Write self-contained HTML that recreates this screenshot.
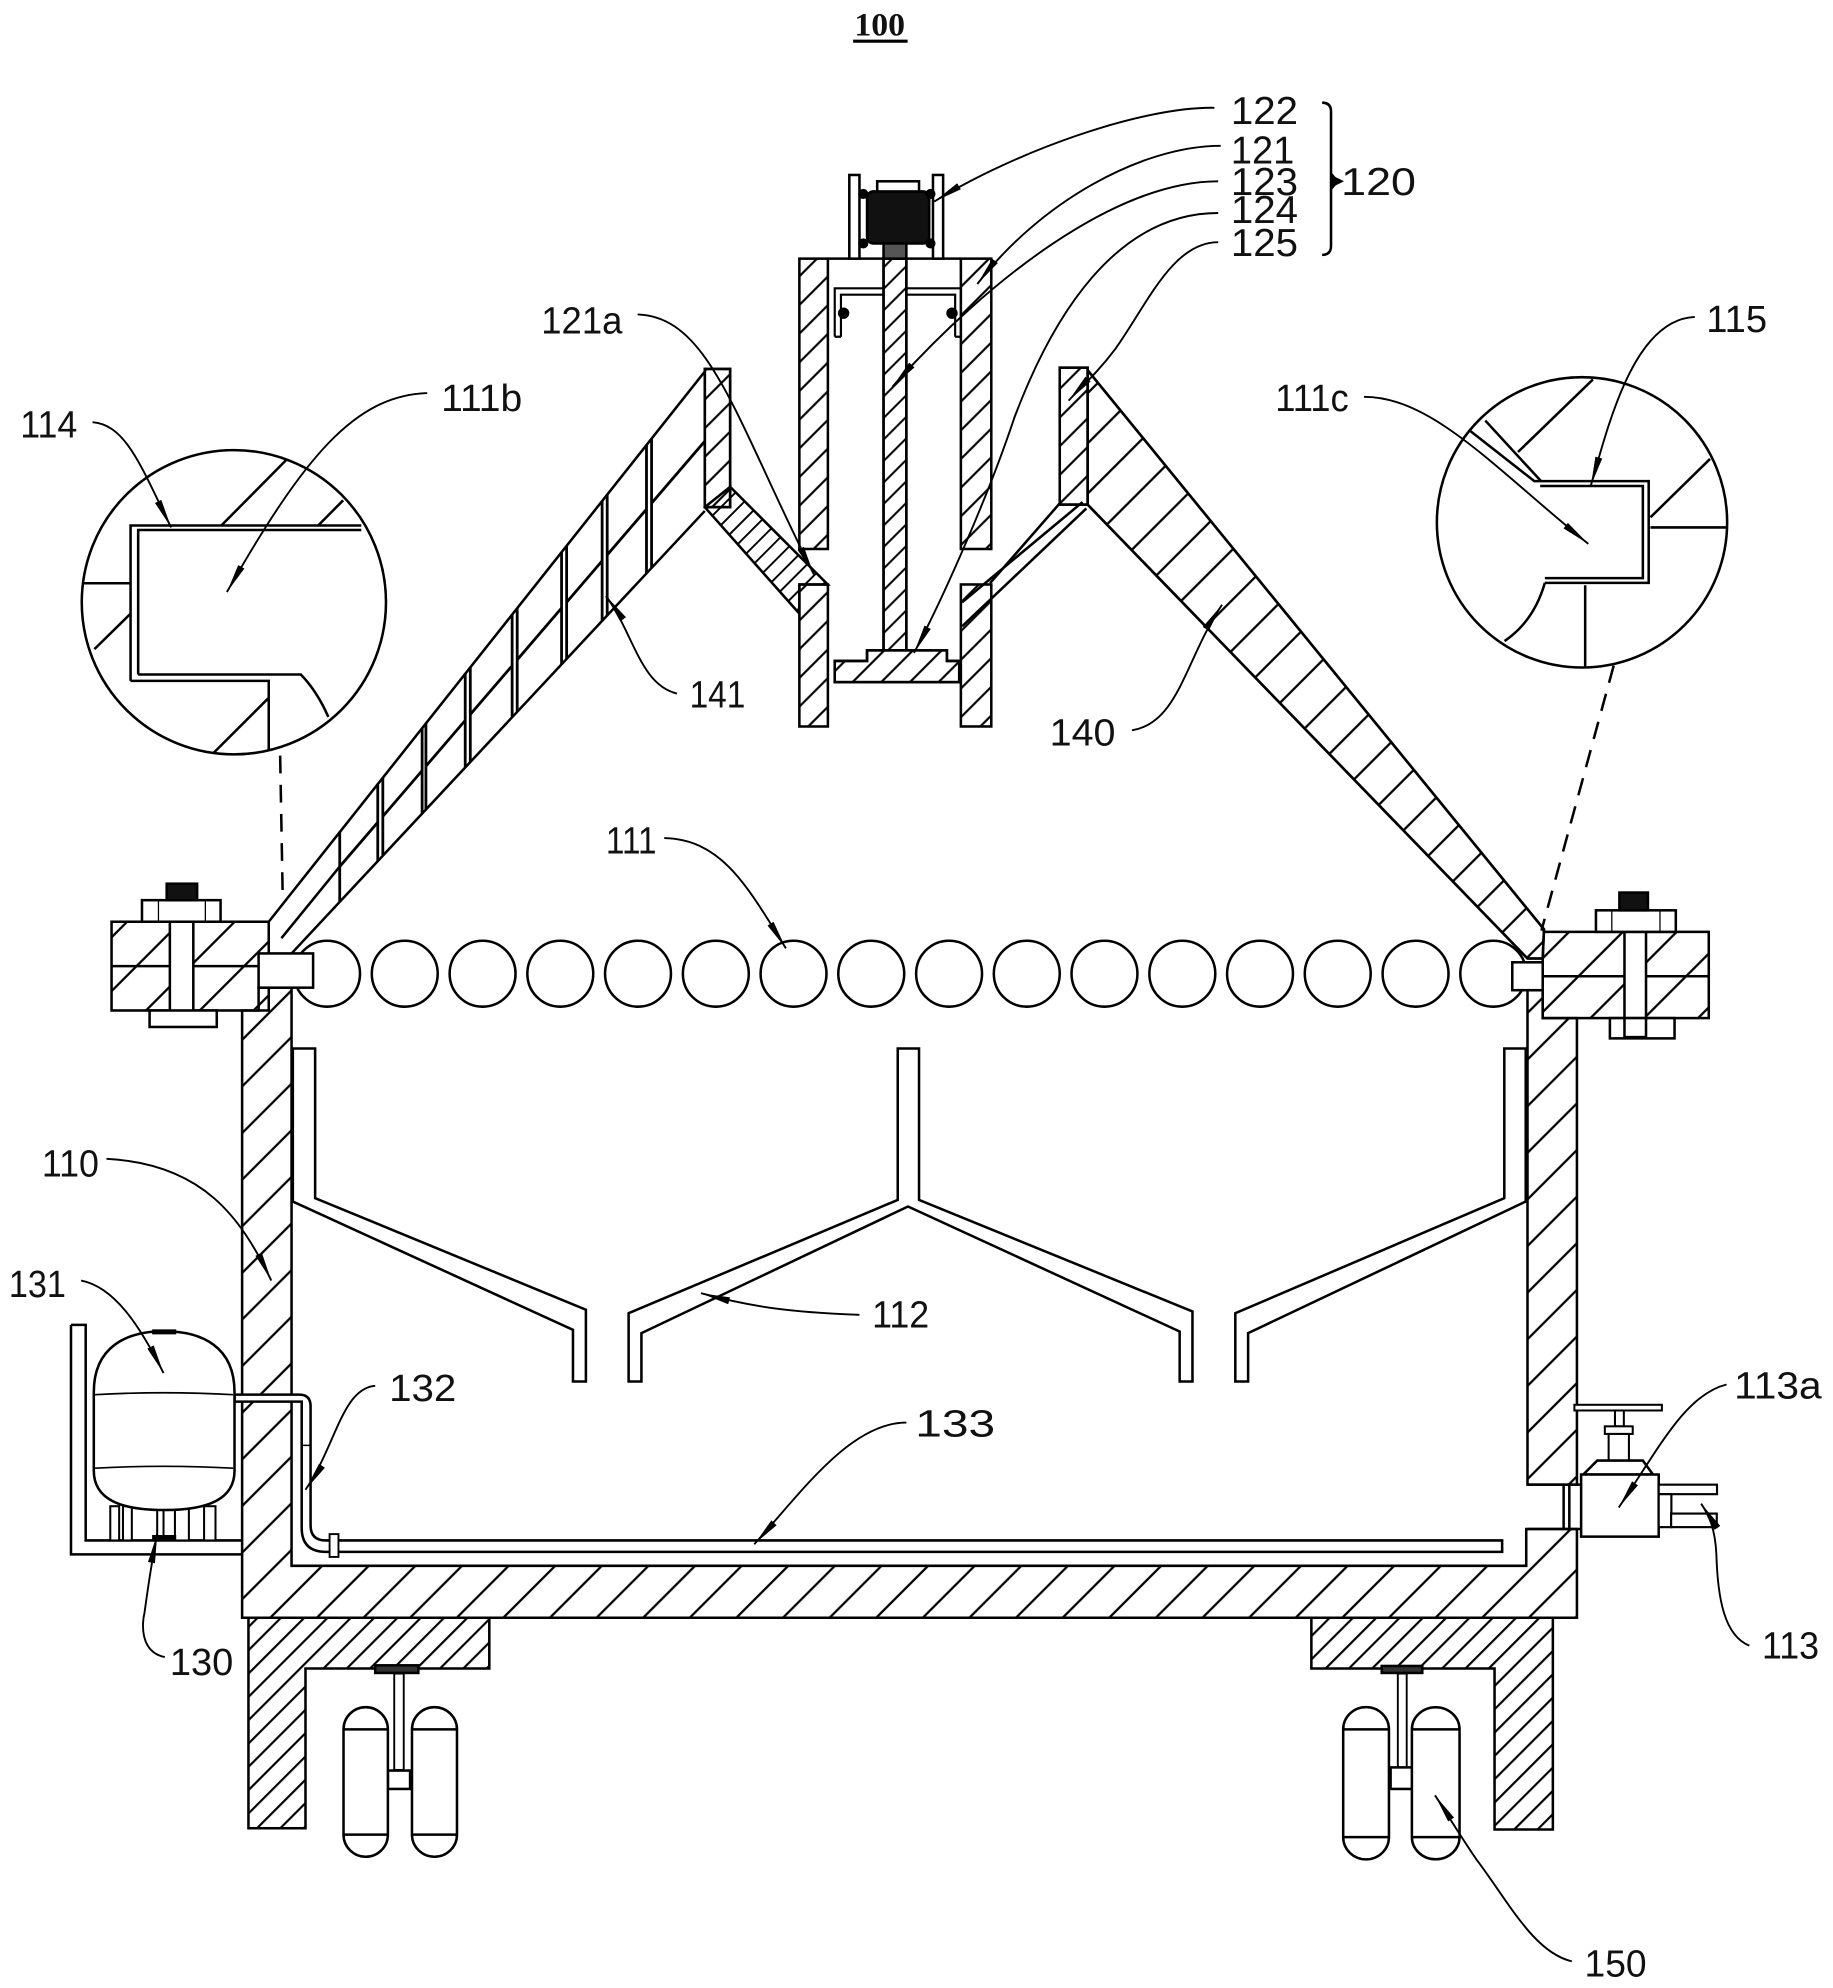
<!DOCTYPE html>
<html><head><meta charset="utf-8"><style>
html,body{margin:0;padding:0;background:#fff;}
svg{display:block;}
text{font-family:"Liberation Sans",sans-serif;fill:#111;}
</style></head><body>
<svg xmlns="http://www.w3.org/2000/svg" width="1833" height="1988" viewBox="0 0 1446 1568" preserveAspectRatio="none">
<defs>
<pattern id="h10" patternUnits="userSpaceOnUse" width="10" height="10" patternTransform="rotate(45)"><line x1="5" y1="-1" x2="5" y2="11" stroke="#000" stroke-width="1.5"/></pattern>
<pattern id="h12" patternUnits="userSpaceOnUse" width="12" height="12" patternTransform="rotate(45)"><line x1="6" y1="-1" x2="6" y2="13" stroke="#000" stroke-width="1.6"/></pattern>
<pattern id="h13" patternUnits="userSpaceOnUse" width="13" height="13" patternTransform="rotate(45)"><line x1="6" y1="-1" x2="6" y2="14" stroke="#000" stroke-width="1.7"/></pattern>
<pattern id="h16" patternUnits="userSpaceOnUse" width="16" height="16" patternTransform="rotate(45)"><line x1="8" y1="-1" x2="8" y2="17" stroke="#000" stroke-width="1.7"/></pattern>
<pattern id="h26" patternUnits="userSpaceOnUse" width="26" height="26" patternTransform="rotate(45)"><line x1="13" y1="-1" x2="13" y2="27" stroke="#000" stroke-width="1.8"/></pattern>
<pattern id="h28" patternUnits="userSpaceOnUse" width="28" height="28" patternTransform="rotate(45)"><line x1="14" y1="-1" x2="14" y2="29" stroke="#000" stroke-width="1.8"/></pattern>
<pattern id="h30" patternUnits="userSpaceOnUse" width="30" height="30" patternTransform="rotate(45)"><line x1="15" y1="-1" x2="15" y2="31" stroke="#000" stroke-width="1.8"/></pattern>
<marker id="ar" markerUnits="userSpaceOnUse" markerWidth="26" markerHeight="10" refX="23" refY="5" orient="auto"><path d="M0,2.2 L23,5 L0,7.8 Z" fill="#000"/></marker>
</defs>
<rect width="1446" height="1568" fill="#fff"/>

<!-- Title -->
<text x="674" y="28" style="font-family:'Liberation Serif',serif;font-weight:bold" font-size="26" textLength="40" lengthAdjust="spacingAndGlyphs">100</text>
<line x1="673" y1="32.5" x2="716" y2="32.5" stroke="#000" stroke-width="2.5"/>

<g stroke="#000" stroke-width="2" fill="none">

<!-- ===== Hatched main body ===== -->
<polygon points="191,797 191,1276 1244,1276 1244,1206 1204,1206 1204,1235 230,1235 230,779 204,779 204,797" fill="url(#h26)"/>
<polygon points="1205,781 1217,781 1217,803 1244,803 1244,1171 1205,1171" fill="url(#h26)"/>
<!-- valve pipe stub through wall -->
<line x1="1205" y1="1171" x2="1247" y2="1171"/>
<line x1="1205" y1="1206" x2="1247" y2="1206"/>
<line x1="1233.5" y1="1171" x2="1233.5" y2="1206"/>
<line x1="1238" y1="1171" x2="1238" y2="1206"/>

<!-- legs -->
<polygon points="196,1276 386,1276 386,1316 241,1316 241,1442 196,1442" fill="url(#h13)"/>
<polygon points="1034.5,1276 1225,1276 1225,1443 1179,1443 1179,1316 1034.5,1316" fill="url(#h13)"/>

<!-- flanges -->
<rect x="88" y="727" width="124" height="70" fill="url(#h30)"/>
<line x1="88" y1="762" x2="212" y2="762"/>
<rect x="1217" y="735" width="131" height="68" fill="url(#h30)"/>
<line x1="1217" y1="770" x2="1348" y2="770"/>

<!-- right roof band (140) -->
<polygon points="858,292 1218,733 1217,756 1205,756 858,398" fill="#fff"/>
<polygon points="858,292 1218,733 1217,756 1205,756 858,398" fill="url(#h28)"/>

<!-- left roof band with windows (141) -->
<line x1="212" y1="727" x2="556" y2="293"/>
<line x1="230" y1="752" x2="556" y2="403"/>
<line x1="222" y1="740" x2="268" y2="683.5"/>
<g stroke-width="2.2">
<line x1="268" y1="655.9" x2="268" y2="711.2"/><line x1="298" y1="618.1" x2="298" y2="679.1"/><line x1="268" y1="683.5" x2="298" y2="648.6"/>
<line x1="302" y1="613" x2="302" y2="674.8"/><line x1="333" y1="574" x2="333" y2="641.6"/><line x1="302" y1="643.9" x2="333" y2="607.8"/>
<line x1="336" y1="570.2" x2="336" y2="638.4"/><line x1="367" y1="531.1" x2="367" y2="605.2"/><line x1="336" y1="604.3" x2="367" y2="568.2"/>
<line x1="371" y1="526.1" x2="371" y2="600.9"/><line x1="404" y1="484.5" x2="404" y2="565.6"/><line x1="371" y1="563.5" x2="404" y2="525.1"/>
<line x1="408" y1="479.5" x2="408" y2="561.4"/><line x1="443" y1="435.4" x2="443" y2="523.9"/><line x1="408" y1="520.4" x2="443" y2="479.6"/>
<line x1="447" y1="430.3" x2="447" y2="519.6"/><line x1="475" y1="395.1" x2="475" y2="489.7"/><line x1="447" y1="475" x2="475" y2="442.4"/>
<line x1="479" y1="390" x2="479" y2="485.4"/><line x1="510" y1="351" x2="510" y2="452.2"/><line x1="479" y1="437.7" x2="510" y2="401.6"/>
<line x1="514" y1="345.9" x2="514" y2="447.9"/><line x1="514" y1="396.9" x2="556" y2="348"/>
</g>

<!-- posts -->
<rect x="556" y="291" width="20" height="109" fill="#fff"/>
<rect x="556" y="291" width="20" height="109" fill="url(#h16)"/>
<rect x="836" y="290" width="22" height="108" fill="#fff"/>
<rect x="836" y="290" width="22" height="108" fill="url(#h16)"/>
<!-- left slant piece -->
<polygon points="556,400 576,384 653,461 630.6,461 630.6,484" fill="url(#h10)"/>

<!-- upper tube -->
<rect x="630.6" y="204" width="22.5" height="229" fill="url(#h16)"/>
<rect x="758" y="204" width="24" height="229" fill="url(#h16)"/>
<line x1="653" y1="204" x2="758" y2="204"/>
<!-- cup 123 -->
<path d="M658.5,265.6 L658.5,227.4 L758,227.4 M663.4,265.6 L663.4,232.4 L753.5,232.4 L753.5,265.6 M658.5,265.6 L663.4,265.6 M753.5,265.6 L758,265.6" stroke-width="1.7"/>
<circle cx="665.5" cy="247" r="3.5" fill="#000"/>
<circle cx="751" cy="247" r="3.5" fill="#000"/>
<!-- shaft -->
<rect x="697" y="204" width="18" height="309" fill="#fff"/>
<rect x="697" y="204" width="18" height="309" fill="url(#h12)"/>
<!-- base plate -->
<polygon points="658.5,521.3 684,521.3 684,513 747,513 747,521.3 756.7,521.3 756.7,538 658.5,538" fill="#fff"/>
<polygon points="658.5,521.3 684,521.3 684,513 747,513 747,521.3 756.7,521.3 756.7,538 658.5,538" fill="url(#h16)"/>
<!-- lower tube -->
<rect x="630.6" y="461" width="22.5" height="112" fill="url(#h16)"/>
<rect x="758" y="461" width="24" height="112" fill="url(#h16)"/>
<!-- right connecting lines -->
<line x1="836" y1="397" x2="781" y2="460"/>
<line x1="854" y1="396" x2="759" y2="475"/>
<line x1="857" y1="401" x2="759" y2="494"/>

<!-- motor 122 -->
<rect x="670" y="138" width="8" height="66" fill="#fff"/>
<rect x="736" y="138" width="8" height="66" fill="#fff"/>
<rect x="684" y="151" width="49" height="41" rx="5" fill="#111"/>
<rect x="692" y="143" width="33" height="8" fill="#fff"/>
<rect x="697" y="192" width="18" height="12" fill="#555"/>
<circle cx="681" cy="153" r="3" fill="#000"/><circle cx="681" cy="192" r="3" fill="#000"/>
<circle cx="734" cy="153" r="3" fill="#000"/><circle cx="734" cy="192" r="3" fill="#000"/>

<!-- rollers 111 -->
<circle cx="258" cy="768" r="26"/><circle cx="319.3" cy="768" r="26"/><circle cx="380.7" cy="768" r="26"/><circle cx="442" cy="768" r="26"/>
<circle cx="503.3" cy="768" r="26"/><circle cx="564.7" cy="768" r="26"/><circle cx="626" cy="768" r="26"/><circle cx="687.3" cy="768" r="26"/>
<circle cx="748.7" cy="768" r="26"/><circle cx="810" cy="768" r="26"/><circle cx="871.3" cy="768" r="26"/><circle cx="932.7" cy="768" r="26"/>
<circle cx="994" cy="768" r="26"/><circle cx="1055.3" cy="768" r="26"/><circle cx="1116.7" cy="768" r="26"/><circle cx="1178" cy="768" r="26"/>
<rect x="204" y="752" width="43" height="27" fill="#fff"/>
<rect x="1193" y="759" width="24" height="22" fill="#fff"/>

<!-- bolts -->
<rect x="134" y="727" width="18.5" height="81" fill="#fff"/>
<rect x="112" y="710" width="62" height="17" fill="#fff"/>
<line x1="125" y1="710" x2="125" y2="727" stroke-width="1"/><line x1="162" y1="710" x2="162" y2="727" stroke-width="1"/>
<rect x="131.5" y="697" width="24" height="13" fill="#111"/>
<rect x="118" y="797" width="53" height="13" fill="#fff"/>
<rect x="1281.5" y="735" width="17" height="83" fill="#fff"/>
<rect x="1259" y="718" width="63" height="17" fill="#fff"/>
<line x1="1271.5" y1="718" x2="1271.5" y2="735" stroke-width="1"/><line x1="1309.5" y1="718" x2="1309.5" y2="735" stroke-width="1"/>
<rect x="1277.5" y="704" width="22.5" height="14" fill="#111"/>
<rect x="1270" y="803" width="51" height="16" fill="#fff"/>
<rect x="1281.5" y="803" width="17" height="15" fill="#fff"/>

<!-- baffles 112 -->
<path d="M231,827 L231,947.7 L452,1048.9 L452,1089.6 L462.2,1089.6 L462.2,1033 L248.6,945 L248.6,827 Z" fill="#fff"/>
<path d="M708.2,827 L708.2,946.4 L495.9,1035.8 L495.9,1089.6 L506,1089.6 L506,1051.5 L716.3,951.6 L930.6,1050.2 L930.6,1089.6 L940.7,1089.6 L940.7,1034.4 L725,946.4 L725,827 Z" fill="#fff"/>
<path d="M1203.6,827 L1203.6,947.7 L984.6,1051.5 L984.6,1089.6 L974.5,1089.6 L974.5,1035.8 L1186.7,945 L1186.7,827 Z" fill="#fff"/>

<!-- pipes 132 / 133 -->
<path d="M185,1100 L236,1100 Q245,1100 245,1109 L245,1203 Q245,1215 257,1215 L1185,1215 L1185,1224 L257,1224 Q238,1224 238,1205 L238,1105.5 L185,1105.5 Z" fill="#fff"/>
<line x1="238" y1="1140" x2="245" y2="1140" stroke-width="1.2"/>
<rect x="260" y="1210" width="7" height="18" fill="#fff" stroke-width="1.5"/>

<!-- tank 131 with bracket 130 -->
<path d="M56,1045 L67.6,1045 L67.6,1215 L191,1215 M56,1045 L56,1226 L191,1226"/>
<rect x="87" y="1188" width="7" height="27" fill="#fff" stroke-width="1.6"/>
<rect x="97" y="1188" width="7" height="27" fill="#fff" stroke-width="1.6"/>
<rect x="124" y="1188" width="5" height="27" fill="#fff" stroke-width="1.6"/>
<rect x="138" y="1188" width="11" height="27" fill="#fff" stroke-width="1.6"/>
<rect x="161" y="1188" width="9" height="27" fill="#fff" stroke-width="1.6"/>
<path d="M74,1098 C74,1062 100,1050 129.5,1050 C159,1050 185,1062 185,1098 L185,1160 C185,1182 165,1191 129.5,1191 C94,1191 74,1182 74,1160 Z" fill="#fff"/>
<path d="M75,1100 Q129,1097 184,1100 M75,1158 Q129,1155 184,1158" stroke-width="1.3"/>
<line x1="120" y1="1050.5" x2="139" y2="1050.5" stroke-width="4"/>
<line x1="120" y1="1212.5" x2="139" y2="1212.5" stroke-width="3.5"/>

<!-- valve 113 -->
<rect x="1242" y="1108" width="69" height="4.5" fill="#fff" stroke-width="1.6"/>
<rect x="1274" y="1112.5" width="7" height="12.5" fill="#fff" stroke-width="1.6"/>
<rect x="1266" y="1125" width="22" height="6" fill="#fff" stroke-width="1.6"/>
<rect x="1269" y="1131" width="16" height="21" fill="#fff" stroke-width="1.6"/>
<path d="M1249,1163 L1260,1152 L1296,1152 L1304,1163 Z" fill="#fff"/>
<rect x="1247.3" y="1163" width="61.2" height="49" fill="#fff"/>
<rect x="1308.5" y="1171" width="46" height="7.5" fill="#fff" stroke-width="1.7"/>
<rect x="1308.5" y="1178.5" width="10" height="26" fill="#fff" stroke-width="1.7"/>
<rect x="1318.3" y="1193.8" width="36" height="10.7" fill="#fff" stroke-width="1.7"/>

<!-- casters 150 -->
<rect x="296" y="1313.5" width="34" height="6" fill="#333"/>
<rect x="311" y="1320" width="7.5" height="76" fill="#fff" stroke-width="1.5"/>
<rect x="306" y="1396.5" width="17.5" height="14.5" fill="#fff"/>
<path d="M271,1364 A17.5,17.5 0 0 1 306,1364 L306,1447 A17.5,17.5 0 0 1 271,1447 Z M271,1364 L306,1364 M271,1447 L306,1447" fill="#fff"/>
<path d="M325,1364 A17.75,17.5 0 0 1 360.5,1364 L360.5,1447 A17.75,17.5 0 0 1 325,1447 Z M325,1364 L360.5,1364 M325,1447 L360.5,1447" fill="#fff"/>
<rect x="1090" y="1314" width="32" height="5.5" fill="#333"/>
<rect x="1102.7" y="1320" width="7" height="74" fill="#fff" stroke-width="1.5"/>
<rect x="1097" y="1394" width="17" height="17" fill="#fff"/>
<path d="M1059.6,1364 A18,17.5 0 0 1 1095.7,1364 L1095.7,1449 A18,17.5 0 0 1 1059.6,1449 Z M1059.6,1364 L1095.7,1364 M1059.6,1449 L1095.7,1449" fill="#fff"/>
<path d="M1113.8,1364 A18.8,17.5 0 0 1 1151.4,1364 L1151.4,1449 A18.8,17.5 0 0 1 1113.8,1449 Z M1113.8,1364 L1151.4,1364 M1113.8,1449 L1151.4,1449" fill="#fff"/>

<!-- detail circle left (111b / 114) -->
<circle cx="184.5" cy="475" r="120"/>
<path d="M103,537 L103,414.5 L285,414.5 M109,532 L109,418 L285,418"/>
<path d="M103,537 L212,537 L212,592 M109,532 L237.3,532 Q250,545 259,565.4"/>
<line x1="174.6" y1="414.5" x2="225.6" y2="363"/>
<line x1="251" y1="414.5" x2="270.7" y2="394.6"/>
<line x1="66" y1="460" x2="103" y2="460"/>
<line x1="74.5" y1="512" x2="103" y2="484"/>
<line x1="168.7" y1="593.6" x2="212" y2="550.4"/>
<line x1="221" y1="596" x2="223" y2="706" stroke-dasharray="14,9"/>

<!-- detail circle right (111c / 115) -->
<circle cx="1248" cy="412" r="114.5"/>
<path d="M1211,379.5 L1300.6,379.5 L1300.6,459.7 L1218.7,459.7 M1215,383.3 L1296,383.3 L1296,456 L1218.7,456"/>
<line x1="1171.7" y1="331.7" x2="1215.7" y2="379.5"/>
<line x1="1160" y1="340" x2="1211" y2="380"/>
<line x1="1197.5" y1="356.5" x2="1256.6" y2="299.3"/>
<line x1="1302" y1="408" x2="1349" y2="362"/>
<line x1="1302" y1="416" x2="1362.5" y2="416"/>
<path d="M1218.7,459.7 Q1210,490 1186.9,505.6"/>
<line x1="1250.5" y1="461.6" x2="1250.5" y2="526"/>
<line x1="1273" y1="525" x2="1216" y2="734" stroke-dasharray="14,9"/>

<!-- brace for 120 -->
<path d="M1043,81 Q1050,81 1050,88 L1050,137 L1055,143 L1050,149 L1050,194 Q1050,201 1043,201"/>
<path d="M1050,139 L1058,143 L1050,147 Z" fill="#000"/>
</g>

<!-- leaders -->
<g stroke="#000" stroke-width="1.5" fill="none" marker-end="url(#ar)">
<path d="M958,85 C900,84 800,120 737,159"/>
<path d="M963,115 C900,115 820,160 771,224"/>
<path d="M961,143 C880,143 780,220 704,305"/>
<path d="M961,168 C880,168 830,250 800,330 C780,390 745,470 721,515"/>
<path d="M961,191 C925,191 905,240 880,275 C865,295 852,306 843,316"/>
<path d="M73,333 C100,335 112,370 135,416"/>
<path d="M337,310 C280,312 240,360 179,467"/>
<path d="M503,248 C560,250 580,330 642,453"/>
<path d="M1337,250 C1290,252 1270,330 1255,383"/>
<path d="M1076,313 C1130,313 1180,370 1253,429"/>
<path d="M534,547 C505,540 500,500 478,470"/>
<path d="M893,576 C930,570 935,520 964,477"/>
<path d="M524,661 C570,662 590,700 620,748"/>
<path d="M84,914 C160,918 190,960 214,1010"/>
<path d="M64,1010 C90,1015 110,1045 129,1083"/>
<path d="M678,1037 C620,1035 590,1030 553,1020"/>
<path d="M296,1093 C270,1095 265,1140 241,1175"/>
<path d="M715,1122 C670,1122 630,1180 595,1218"/>
<path d="M1362,1092 C1330,1100 1310,1140 1277,1189"/>
<path d="M1380,1298 C1360,1290 1355,1260 1354,1226 C1353,1205 1348,1195 1342,1186"/>
<path d="M130,1307 C110,1303 112,1280 114,1272 C117,1250 120,1230 124,1210"/>
<path d="M1240,1547 C1210,1540 1190,1500 1165,1467 C1150,1445 1140,1428 1132,1416"/>
</g>

<!-- labels -->
<g font-size="31">
<text x="971" y="98" textLength="53" lengthAdjust="spacingAndGlyphs">122</text>
<text x="971" y="129" textLength="50" lengthAdjust="spacingAndGlyphs">121</text>
<text x="971" y="154" textLength="53" lengthAdjust="spacingAndGlyphs">123</text>
<text x="971" y="176" textLength="53" lengthAdjust="spacingAndGlyphs">124</text>
<text x="971" y="202" textLength="53" lengthAdjust="spacingAndGlyphs">125</text>
<text x="1058" y="154" textLength="59" lengthAdjust="spacingAndGlyphs">120</text>
</g>
<g font-size="30">
<text x="16" y="345" textLength="45" lengthAdjust="spacingAndGlyphs">114</text>
<text x="348" y="324" textLength="64" lengthAdjust="spacingAndGlyphs">111b</text>
<text x="427" y="263" textLength="64" lengthAdjust="spacingAndGlyphs">121a</text>
<text x="1346" y="262" textLength="48" lengthAdjust="spacingAndGlyphs">115</text>
<text x="1006" y="324" textLength="58" lengthAdjust="spacingAndGlyphs">111c</text>
<text x="544" y="558" textLength="44" lengthAdjust="spacingAndGlyphs">141</text>
<text x="828" y="588" textLength="52" lengthAdjust="spacingAndGlyphs">140</text>
<text x="478" y="673" textLength="40" lengthAdjust="spacingAndGlyphs">111</text>
<text x="33" y="928" textLength="45" lengthAdjust="spacingAndGlyphs">110</text>
<text x="7" y="1023" textLength="45" lengthAdjust="spacingAndGlyphs">131</text>
<text x="688" y="1047" textLength="45" lengthAdjust="spacingAndGlyphs">112</text>
<text x="307" y="1105" textLength="53" lengthAdjust="spacingAndGlyphs">132</text>
<text x="722" y="1133" textLength="63" lengthAdjust="spacingAndGlyphs">133</text>
<text x="1368" y="1103" textLength="69" lengthAdjust="spacingAndGlyphs">113a</text>
<text x="134" y="1321" textLength="50" lengthAdjust="spacingAndGlyphs">130</text>
<text x="1390" y="1308" textLength="45" lengthAdjust="spacingAndGlyphs">113</text>
<text x="1250" y="1559" textLength="49" lengthAdjust="spacingAndGlyphs">150</text>
</g>
</svg>
</body></html>
